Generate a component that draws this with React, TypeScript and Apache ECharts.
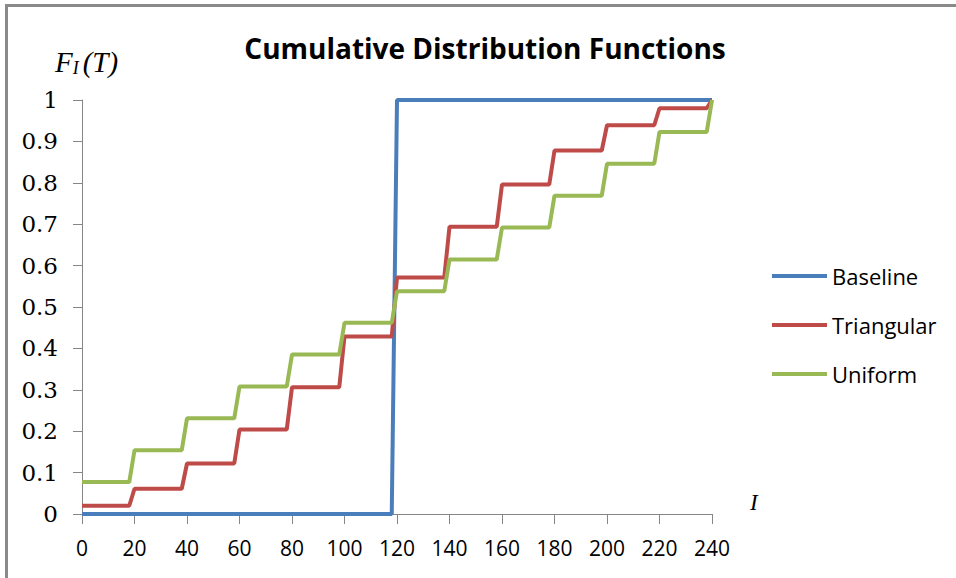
import React, { useEffect, useRef } from "react";
import * as echarts from "echarts";

const seriesNames = ["Baseline", "Triangular", "Uniform"];
const seriesColors = ["#4A7EBB", "#BE4B48", "#98B954"];

const baselineX = [0, 118, 120, 240];
const baselineY = [0, 0, 1, 1];

const stepX = [0, 18, 20, 38, 40, 58, 60, 78, 80, 98, 100, 118, 120, 138, 140, 158, 160, 178, 180, 198, 200, 218, 220, 238, 240];
const triangularY = [0.020, 0.020, 0.061, 0.061, 0.122, 0.122, 0.204, 0.204, 0.306, 0.306, 0.429, 0.429, 0.571, 0.571, 0.694, 0.694, 0.796, 0.796, 0.878, 0.878, 0.939, 0.939, 0.980, 0.980, 1.0];
const uniformY = [0.077, 0.077, 0.154, 0.154, 0.231, 0.231, 0.308, 0.308, 0.385, 0.385, 0.462, 0.462, 0.538, 0.538, 0.615, 0.615, 0.692, 0.692, 0.769, 0.769, 0.846, 0.846, 0.923, 0.923, 1.0];

const titleText = "Cumulative Distribution Functions";

function pairs(xs: number[], ys: number[]) {
  return xs.map((x, i) => [x, ys[i]]);
}

export default function App() {
  const ref = useRef<HTMLDivElement>(null);
  useEffect(() => {
    if (!ref.current) return;
    const chart = echarts.init(ref.current, null, { renderer: "svg" });
    const axisColor = "#868686";
    const dataSets = [
      pairs(baselineX, baselineY),
      pairs(stepX, triangularY),
      pairs(stepX, uniformY),
    ];
    chart.setOption({
      animation: false,
      backgroundColor: "#ffffff",
      title: {
        text: titleText,
        left: 485,
        top: 34,
        textAlign: "center",
        padding: 0,
        textStyle: {
          fontFamily: "Open Sans",
          fontWeight: "bold",
          fontSize: 28,
          color: "#000000",
        },
      },
      grid: { left: 82, right: 244, top: 100, bottom: 64, containLabel: false },
      legend: {
        orient: "vertical",
        left: 772,
        top: 265,
        padding: 0,
        itemWidth: 55,
        itemHeight: 4,
        itemGap: 27,
        icon: "rect",
        data: seriesNames,
        textStyle: {
          fontFamily: "Open Sans",
          fontSize: 22,
          lineHeight: 22,
          color: "#000000",
        },
      },
      xAxis: {
        type: "value",
        min: 0,
        max: 240,
        interval: 20,
        axisLine: { show: true, onZero: false, lineStyle: { color: axisColor, width: 1 } },
        axisTick: { show: true, length: 10, lineStyle: { color: axisColor } },
        splitLine: { show: false },
        axisLabel: {
          margin: 23,
          fontFamily: "Open Sans",
          fontSize: 21,
          color: "#000000",
        },
      },
      yAxis: {
        type: "value",
        min: 0,
        max: 1,
        interval: 0.1,
        axisLine: { show: true, lineStyle: { color: axisColor, width: 1 } },
        axisTick: { show: true, length: 9, lineStyle: { color: axisColor } },
        splitLine: { show: false },
        axisLabel: {
          margin: 24,
          fontFamily: "DejaVu Serif",
          fontSize: 23,
          color: "#000000",
          formatter: (v: number) => String(Math.round(v * 10) / 10),
        },
      },
      graphic: [
        { type: "rect", shape: { x: 5, y: 4, width: 951, height: 3 }, style: { fill: "#8A8A8A" }, silent: true },
        { type: "rect", shape: { x: 5, y: 4, width: 3, height: 574 }, style: { fill: "#8A8A8A" }, silent: true },
        {
          type: "text",
          left: 55,
          top: 47,
          style: {
            text: "{f|F}{s|I}{f|(T)}",
            rich: {
              f: { fontFamily: "Liberation Serif", fontStyle: "italic", fontSize: 29, lineHeight: 32, fill: "#000000" },
              s: { fontFamily: "Liberation Serif", fontStyle: "italic", fontSize: 18, lineHeight: 32, padding: [12, 4, 0, 0], fill: "#000000" },
            },
          },
        },
        {
          type: "text",
          left: 750,
          top: 491,
          style: {
            text: "I",
            fontFamily: "Liberation Serif",
            fontStyle: "italic",
            fontSize: 23,
            fill: "#000000",
          },
        },
      ],
      series: seriesNames.map((name, i) => ({
        name,
        type: "line",
        data: dataSets[i],
        showSymbol: false,
        symbol: "none",
        clip: false,
        color: seriesColors[i],
        lineStyle: { width: 4, color: seriesColors[i] },
        z: 2 + i,
      })),
    });
    return () => chart.dispose();
  }, []);
  return (
    <div
      ref={ref}
      style={{ position: "absolute", left: 0, top: 0, width: 956, height: 578 }}
    />
  );
}
